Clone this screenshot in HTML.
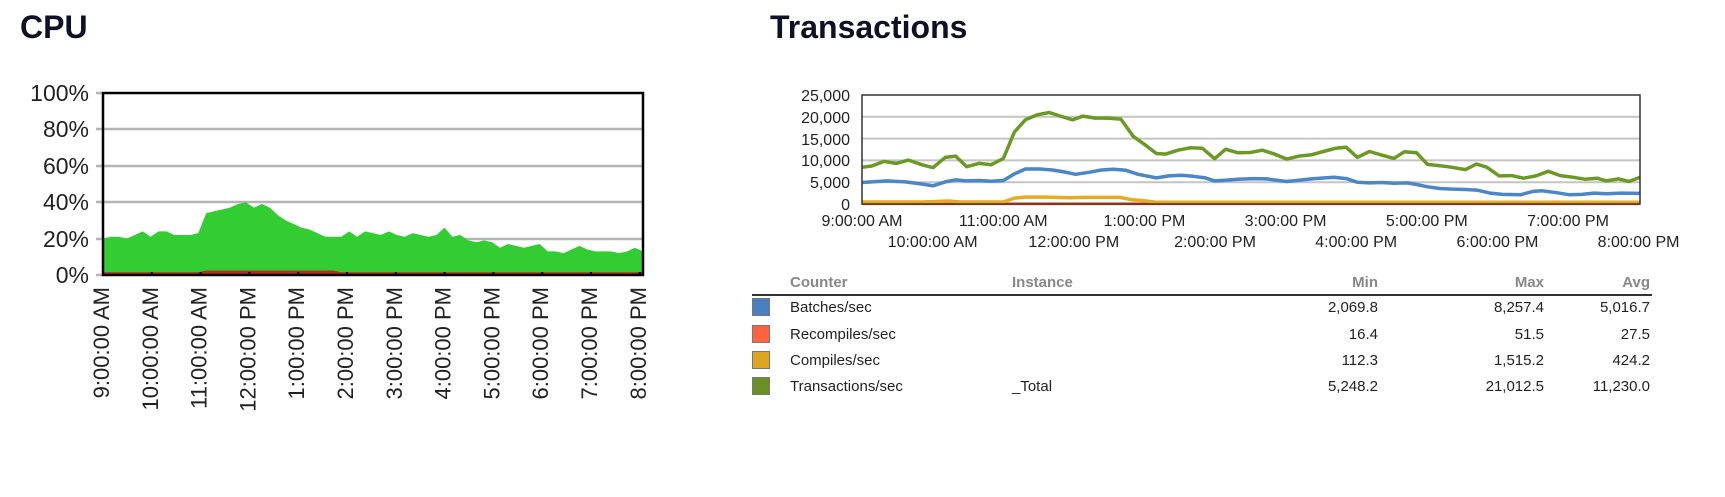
<!DOCTYPE html>
<html><head><meta charset="utf-8">
<style>
html,body{margin:0;padding:0;background:#fff;width:1725px;height:497px;overflow:hidden}
svg{display:block}
.t{font-family:"Liberation Sans",sans-serif}
</style></head>
<body>
<svg id="s" width="1725" height="497" xmlns="http://www.w3.org/2000/svg" class="t">
<text x="20" y="38" font-size="32" font-weight="bold" fill="#0f1025">CPU</text>
<text x="770" y="38" font-size="32" font-weight="bold" fill="#0f1025">Transactions</text>

<!-- CPU grid -->
<g stroke="#b4b4b4" stroke-width="2.5">
<line x1="96" y1="129" x2="643" y2="129"/><line x1="96" y1="166" x2="643" y2="166"/>
<line x1="96" y1="202" x2="643" y2="202"/><line x1="96" y1="239" x2="643" y2="239"/>
<line x1="96" y1="93" x2="103" y2="93"/><line x1="96" y1="275" x2="103" y2="275"/>
</g>
<g font-size="23" fill="#222" text-anchor="end">
<text x="89" y="101">100%</text><text x="89" y="137">80%</text><text x="89" y="174">60%</text>
<text x="89" y="210">40%</text><text x="89" y="247">20%</text><text x="89" y="283">0%</text>
</g>
<polygon id="cpuG" fill="#33cc33"/>
<polygon id="cpuR" fill="#b03020"/>
<rect x="103" y="93" width="540" height="182" fill="none" stroke="#000" stroke-width="2.5"/>
<g id="cpuX" font-size="22" fill="#222" text-anchor="end"></g>

<!-- Transactions chart -->
<g stroke="#c4c4c4" stroke-width="2">
<line x1="862" y1="116.8" x2="1640" y2="116.8"/><line x1="862" y1="138.6" x2="1640" y2="138.6"/>
<line x1="862" y1="160.4" x2="1640" y2="160.4"/><line x1="862" y1="182.2" x2="1640" y2="182.2"/>
</g>
<g font-size="16" fill="#222" text-anchor="end">
<text x="850" y="101">25,000</text><text x="850" y="123">20,000</text><text x="850" y="145">15,000</text>
<text x="850" y="166">10,000</text><text x="850" y="188">5,000</text><text x="850" y="210">0</text>
</g>
<polyline id="tR" fill="none" stroke="#ff6a45" stroke-width="3"/>
<polyline id="tO" fill="none" stroke="#e8aa20" stroke-width="3.5" stroke-linejoin="round"/>
<polyline id="tB" fill="none" stroke="#4a86c8" stroke-width="3.5" stroke-linejoin="round"/>
<polyline id="tG" fill="none" stroke="#6b9a24" stroke-width="3.5" stroke-linejoin="round"/>
<rect x="862" y="95" width="778" height="109" fill="none" stroke="#333" stroke-width="1.5"/>
<g id="tX" font-size="16" fill="#222" text-anchor="middle"></g>

<!-- table -->
<g font-size="15" font-weight="bold" fill="#888">
<text x="790" y="287">Counter</text><text x="1012" y="287">Instance</text>
<text x="1378" y="287" text-anchor="end">Min</text><text x="1544" y="287" text-anchor="end">Max</text><text x="1650" y="287" text-anchor="end">Avg</text>
</g>
<line x1="752" y1="295" x2="1652" y2="295" stroke="#333" stroke-width="2"/>
<g stroke="#777" stroke-width="1">
<rect x="752.5" y="298.5" width="17" height="17" fill="#4a7fc1"/>
<rect x="752.5" y="325.5" width="17" height="17" fill="#ff6240"/>
<rect x="752.5" y="351.5" width="17" height="17" fill="#dca620"/>
<rect x="752.5" y="377.5" width="17" height="17" fill="#6b8f22"/>
</g>
<g font-size="15" fill="#222">
<text x="790" y="312">Batches/sec</text>
<text x="790" y="339">Recompiles/sec</text>
<text x="790" y="365">Compiles/sec</text>
<text x="790" y="391">Transactions/sec</text>
<text x="1012" y="391">_Total</text>
<g text-anchor="end">
<text x="1378" y="312">2,069.8</text><text x="1544" y="312">8,257.4</text><text x="1650" y="312">5,016.7</text>
<text x="1378" y="339">16.4</text><text x="1544" y="339">51.5</text><text x="1650" y="339">27.5</text>
<text x="1378" y="365">112.3</text><text x="1544" y="365">1,515.2</text><text x="1650" y="365">424.2</text>
<text x="1378" y="391">5,248.2</text><text x="1544" y="391">21,012.5</text><text x="1650" y="391">11,230.0</text>
</g></g>
</svg>
<script>
var NS="http://www.w3.org/2000/svg";
var cpu=[20,21,21,20,22,24,21,24,24,22,22,22,23,34,35,36,37,39,40,37,39,37,33,30,28,26,25,23,21,21,21,24,21,24,23,22,24,22,21,23,22,21,22,26,21,22,19,18,19,18,15,17,16,15,16,17,13,13,12,14,16,14,13,13,13,12,13,15,13];
var n=cpu.length, x0=103, x1=643, pts=[], rp=[];
for(var i=0;i<n;i++){var x=x0+(x1-x0)*i/(n-1);pts.push(x+","+(275-1.82*cpu[i]));
 var r=(i>12&&i<30)?2.5:1.5; rp.push(x+","+(275-1.82*r));}
document.getElementById("cpuG").setAttribute("points",x0+",275 "+pts.join(" ")+" "+x1+",275");
document.getElementById("cpuR").setAttribute("points",x0+",275 "+rp.join(" ")+" "+x1+",275");
var lab=["9:00:00 AM","10:00:00 AM","11:00:00 AM","12:00:00 PM","1:00:00 PM","2:00:00 PM","3:00:00 PM","4:00:00 PM","5:00:00 PM","6:00:00 PM","7:00:00 PM","8:00:00 PM"];
var g=document.getElementById("cpuX");
for(var i=0;i<12;i++){var x=101+i*48.8+8;var t=document.createElementNS(NS,"text");
 t.setAttribute("transform","translate("+x+",287) rotate(-90)");t.textContent=lab[i];g.appendChild(t);
 var l=document.createElementNS(NS,"line");l.setAttribute("x1",101+i*48.8+2);l.setAttribute("x2",101+i*48.8+2);l.setAttribute("y1",272);l.setAttribute("y2",276);l.setAttribute("stroke","#000");l.setAttribute("stroke-width","2");document.getElementById("s").appendChild(l);}
var tg=document.getElementById("tX");
for(var i=0;i<12;i++){var t=document.createElementNS(NS,"text");t.setAttribute("x",862+i*70.6);t.setAttribute("y",i%2?247:226);t.textContent=lab[i];tg.appendChild(t);}
function tr(a){var o=[];for(var i=0;i<a.length;i+=2){o.push((862+(a[i]-199)/1271*778).toFixed(1)+","+(95+(a[i+1]-73)/330*109).toFixed(1));}return o.join(" ");}
var G=[199,292,215,288,235,274,255,280,275,270,295,283,315,293,335,262,352,258,370,290,390,280,410,284,430,265,448,185,466,148,485,133,505,126,525,138,543,148,560,137,580,143,600,143,622,146,642,198,660,222,680,250,695,252,715,240,735,233,755,234,775,266,793,237,813,248,833,247,853,240,873,252,893,267,913,258,933,254,953,244,973,234,990,231,1008,262,1028,244,1048,255,1068,265,1085,245,1105,248,1123,283,1143,287,1163,292,1185,299,1203,282,1220,292,1240,318,1260,317,1280,325,1300,318,1320,304,1340,317,1360,322,1380,328,1400,325,1415,333,1435,327,1452,335,1470,322];
var B=[199,338,240,333,270,336,295,342,315,348,335,336,352,330,370,333,390,332,410,334,430,332,448,312,466,297,490,297,510,300,530,306,548,313,570,307,590,300,610,298,630,301,650,313,680,324,700,318,720,316,740,319,760,324,775,333,793,331,813,328,840,326,860,327,893,335,913,331,933,327,970,322,990,326,1008,337,1028,339,1048,338,1068,340,1090,339,1105,344,1123,351,1143,356,1163,358,1185,359,1203,361,1225,370,1245,374,1275,375,1295,365,1310,363,1335,369,1355,375,1375,374,1395,370,1415,372,1440,370,1470,371];
var O=[199,397,300,397,340,394,360,397,430,397,448,385,466,382,500,382,540,384,560,383,620,383,640,390,660,393,680,398,1470,398];
var R=[199,402,1470,402];
document.getElementById("tG").setAttribute("points",tr(G));
document.getElementById("tB").setAttribute("points",tr(B));
document.getElementById("tO").setAttribute("points",tr(O));
document.getElementById("tR").setAttribute("points",tr(R));
</script>
</body></html>
